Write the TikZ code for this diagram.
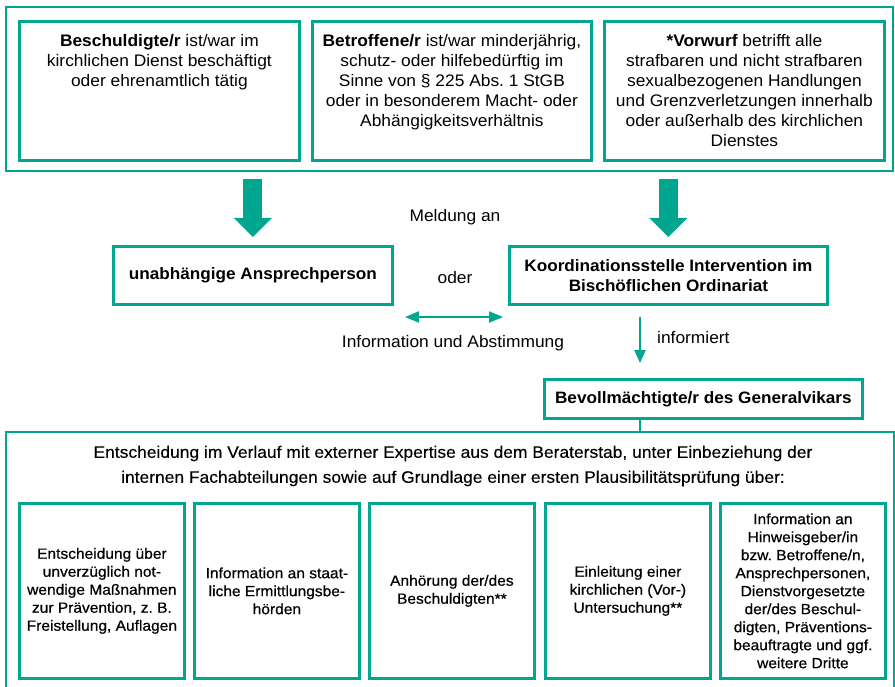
\documentclass[tikz,border=0pt]{standalone}
\usepackage{fontspec}
\setmainfont[FakeStretch=1.04]{Liberation Sans}
\newfontfamily\medfont[FakeBold=0.6,FakeStretch=1.05]{Liberation Sans}
\newfontfamily\headfont[FakeBold=0.25,FakeStretch=1.05]{Liberation Sans}
\usetikzlibrary{arrows.meta,calc}
\definecolor{teal1}{HTML}{00A68F}
\frenchspacing
\begin{document}
\begin{tikzpicture}[x=1pt,y=-1pt,
  box/.style={draw=teal1, line width=2.8pt, inner sep=0pt, anchor=north west},
  outerbox/.style={draw=teal1, line width=2.2pt, inner sep=0pt, anchor=north west},
  txt/.style={align=center, inner sep=0pt, font=\fontsize{16.7}{20}\selectfont},
  btxt/.style={align=center, inner sep=0pt, font=\fontsize{16.5}{20}\selectfont\bfseries},
  stxt/.style={align=center, font=\fontsize{14.8}{18}\medfont},
  bigarrow/.style={draw=teal1, line width=19pt, -{Triangle[width=37pt,length=19pt]}},
  thinarrow/.style={draw=teal1, line width=2pt},
  sbox/.style={box, minimum width=165pt, minimum height=175pt, stxt}
]
\useasboundingbox (0,0) rectangle (895,687);
% top block
\node[outerbox, minimum width=887pt, minimum height=164pt] (top) at (5,6) {};
\node[box, minimum width=280pt, minimum height=139pt] (b1) at (18,20) {};
\node[box, minimum width=279pt, minimum height=139pt] (b2) at (311,20) {};
\node[box, minimum width=280pt, minimum height=139pt] (b3) at (603,20) {};
\node[txt, anchor=north] (t1) at ($(b1.north)+(0,14)$) {\textbf{Beschuldigte/r} ist/war im\\kirchlichen Dienst beschäftigt\\oder ehrenamtlich tätig};
\node[txt, anchor=north] (t2) at ($(b2.north)+(0,14)$) {\textbf{Betroffene/r} ist/war minderjährig,\\schutz- oder hilfebedürftig im\\Sinne von § 225 Abs. 1 StGB\\oder in besonderem Macht- oder\\Abhängigkeitsverhältnis};
\node[txt, anchor=north] (t3) at ($(b3.north)+(0,14)$) {\textbf{*Vorwurf} betrifft alle\\strafbaren und nicht strafbaren\\sexualbezogenen Handlungen\\und Grenzverletzungen innerhalb\\oder außerhalb des kirchlichen\\Dienstes};
% middle
\node[box, minimum width=279pt, minimum height=58pt] (unab) at (112,245) {};
\node[btxt] at (unab.center) {unabhängige Ansprechperson};
\node[box, minimum width=318pt, minimum height=58pt] (koord) at (508,245) {};
\node[btxt] at (koord.center) {Koordinationsstelle Intervention im\\Bischöflichen Ordinariat};
\draw[bigarrow, shorten <=7pt, shorten >=8pt] (top.south -| unab.north) -- (unab.north);
\draw[bigarrow, shorten <=7pt, shorten >=8pt] (top.south -| koord.north) -- (koord.north);
\node[txt] (meld) at (455,217) {Meldung an};
\node[txt] (oder) at (455,278) {oder};
\coordinate (da1) at (405,317);
\coordinate (da2) at (503,317);
\draw[thinarrow, {Triangle[width=11pt,length=14pt]}-{Triangle[width=11pt,length=14pt]}] (da1) -- (da2);
\node[txt] (info) at (453,343) {Information und Abstimmung};
% informiert
\node[box, minimum width=318pt, minimum height=39pt] (bev) at (543,378) {};
\node[btxt] at (bev.center) {Bevollmächtigte/r des Generalvikars};
\coordinate (i1) at (640,317);
\draw[thinarrow, -{Triangle[width=11pt,length=13pt]}, shorten >=15pt] (i1) -- (bev.north -| i1);
\node[txt, anchor=west] (inf) at (657,338) {informiert};
% bottom block
\node[outerbox, minimum width=888pt, minimum height=300pt] (bot) at (5,431) {};
\draw[thinarrow] (bev.south -| i1) -- (bot.north -| i1);
\node[align=center, inner sep=0pt, font=\fontsize{16.6}{25}\headfont] (head) at (453,466) {Entscheidung im Verlauf mit externer Expertise aus dem Beraterstab, unter Einbeziehung der\\internen Fachabteilungen sowie auf Grundlage einer ersten Plausibilitätsprüfung über:};
\node[sbox] (s1) at (18,502) {Entscheidung über\\unverzüglich not-\\wendige Maßnahmen\\zur Prävention, z. B.\\Freistellung, Auflagen};
\node[sbox] (s2) at (193,502) {Information an staat-\\liche Ermittlungsbe-\\hörden};
\node[sbox] (s3) at (368,502) {Anhörung der/des\\Beschuldigten**};
\node[sbox] (s4) at (544,502) {Einleitung einer\\kirchlichen (Vor-)\\Untersuchung**};
\node[sbox] (s5) at (719,502) {Information an\\Hinweisgeber/in\\bzw. Betroffene/n,\\Ansprechpersonen,\\Dienstvorgesetzte\\der/des Beschul-\\digten, Präventions-\\beauftragte und ggf.\\weitere Dritte};
\end{tikzpicture}
\end{document}
